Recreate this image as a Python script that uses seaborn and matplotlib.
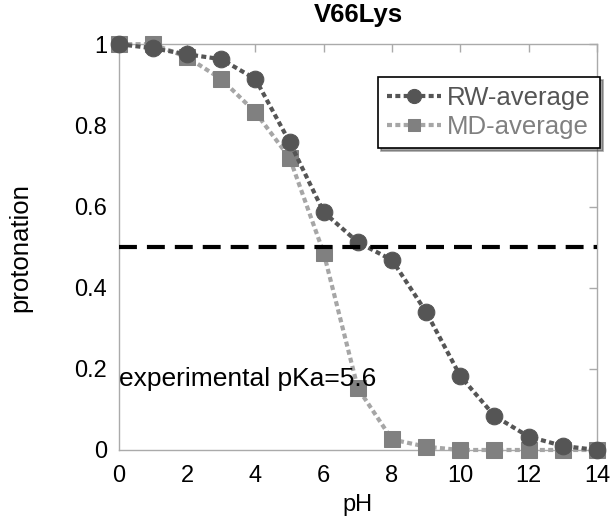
import matplotlib
matplotlib.use("Agg")
import matplotlib.pyplot as plt
import seaborn as sns
import pandas as pd

ph = [0, 1, 2, 3, 4, 5, 6, 7, 8, 9, 10, 11, 12, 13, 14]
rw_average = [1.0, 0.99, 0.975, 0.963, 0.914, 0.759, 0.586, 0.512, 0.468, 0.34, 0.182, 0.084, 0.033, 0.01, 0.0]
md_average = [1.0, 1.0, 0.968, 0.914, 0.832, 0.72, 0.485, 0.152, 0.026, 0.008, 0.0, 0.0, 0.0, 0.0, 0.0]
exp_pka_label = "experimental pKa=5.6"
threshold = 0.5

sns.set_theme(style="white")
plt.rcParams["font.family"] = ["Liberation Sans", "DejaVu Sans"]
plt.rcParams["text.color"] = "black"
plt.rcParams["axes.labelcolor"] = "black"

fig = plt.figure(figsize=(6.16, 5.26), dpi=100)
ax = fig.add_axes([0.193, 0.1445, 0.776, 0.7715])

df = pd.DataFrame({"pH": ph, "RW": rw_average, "MD": md_average})

sns.lineplot(data=df, x="pH", y="RW", ax=ax, color="#555555", lw=3,
             linestyle=(0, (1.2, 0.8)), marker="o", markersize=12,
             markeredgecolor="#555555", markerfacecolor="#555555",
             label="RW-average", clip_on=False, zorder=4)
sns.lineplot(data=df, x="pH", y="MD", ax=ax, color="#a6a6a6", lw=3,
             linestyle=(0, (1.2, 0.8)), marker="s", markersize=11,
             markeredgecolor="#808080", markerfacecolor="#808080",
             label="MD-average", clip_on=False, zorder=3)

ax.axhline(threshold, xmin=0, xmax=1, color="black", lw=3, linestyle=(0, (4.3, 2.4)), zorder=5)
ax.text(0.0, 0.175, exp_pka_label, fontsize=19, color="black", va="center", ha="left", zorder=6)

ax.set_xlim(0, 14)
ax.set_ylim(0, 1)
ax.set_xticks([0, 2, 4, 6, 8, 10, 12, 14])
ax.set_yticks([0, 0.2, 0.4, 0.6, 0.8, 1])
ax.set_yticklabels(["0", "0.2", "0.4", "0.6", "0.8", "1"])
ax.tick_params(axis="both", which="both", direction="in", length=6, width=1,
               color="#aaaaaa", labelsize=17, top=True, right=True,
               labelcolor="black")
ax.tick_params(axis="x", pad=11)
ax.tick_params(axis="y", pad=8.5)
for s in ax.spines.values():
    s.set_color("#aaaaaa")
    s.set_linewidth(1)

ax.set_xlabel("pH", fontsize=17, labelpad=5)
ax.set_ylabel("protonation", fontsize=18.5, labelpad=30)
ax.set_title("V66Lys", fontsize=18.5, fontweight="bold", pad=16)

leg = ax.legend(loc="upper right", bbox_to_anchor=(1.006, 0.919), fontsize=18.5,
                frameon=True, fancybox=False, shadow=True, handlelength=2.1,
                borderpad=0.35, labelspacing=0.2, handletextpad=0.25,
                borderaxespad=0, markerscale=0.85)
leg.get_frame().set_edgecolor("black")
leg.get_frame().set_linewidth(1.2)
leg.set_zorder(10)
for txt, c in zip(leg.get_texts(), ["#555555", "#808080"]):
    txt.set_color(c)

fig.savefig("out.png", dpi=100)
